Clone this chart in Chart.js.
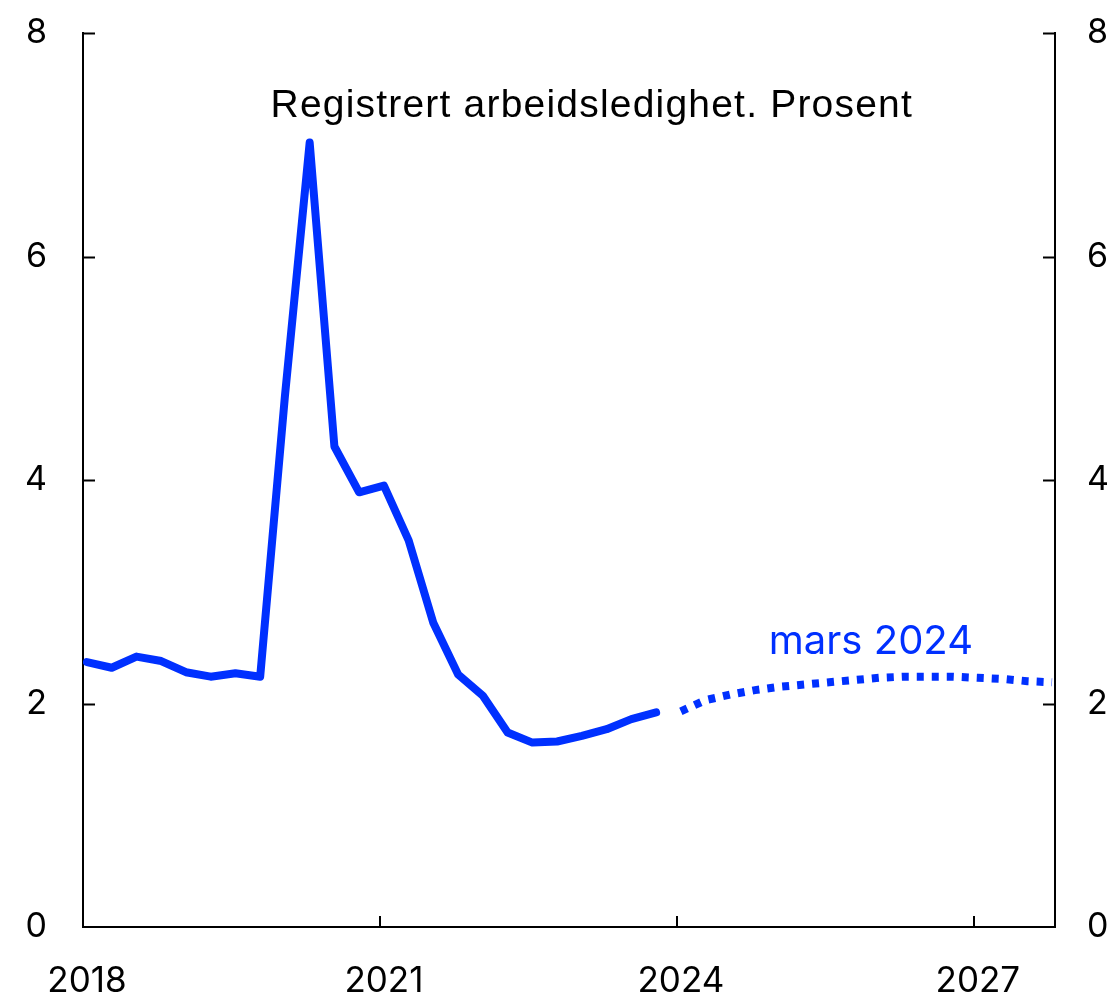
<!DOCTYPE html>
<html>
<head>
<meta charset="utf-8">
<script src="https://cdn.jsdelivr.net/npm/chart.js@4"></script>
<style>
  html, body { margin: 0; padding: 0; background: #fff; }
  #wrap { width: 1111px; height: 997px; }
</style>
</head>
<body>
<div id="wrap"><canvas id="chart" width="1111" height="997"></canvas></div>
<script>
// quarterly data, registrert arbeidsledighet (prosent)
const histQuarters = ['2018K1','2018K2','2018K3','2018K4','2019K1','2019K2','2019K3','2019K4',
  '2020K1','2020K2','2020K3','2020K4','2021K1','2021K2','2021K3','2021K4',
  '2022K1','2022K2','2022K3','2022K4','2023K1','2023K2','2023K3','2023K4'];
const histValues = [2.37, 2.32, 2.42, 2.38, 2.28, 2.24, 2.27, 2.24,
  4.75, 7.02, 4.30, 3.89, 3.95, 3.46, 2.72, 2.26,
  2.07, 1.74, 1.65, 1.66, 1.71, 1.77, 1.86, 1.92];
const fcQuarters = ['2024K1','2024K2','2024K3','2024K4','2025K1','2025K2','2025K3','2025K4',
  '2026K1','2026K2','2026K3','2026K4','2027K1','2027K2','2027K3','2027K4'];
const fcValues = [1.93, 2.03, 2.08, 2.12, 2.15, 2.17, 2.19, 2.21,
  2.23, 2.24, 2.24, 2.24, 2.23, 2.22, 2.20, 2.19];
const xTicks = [2018, 2021, 2024, 2027];
const yTicks = [0, 2, 4, 6, 8];
const titleText = 'Registrert arbeidsledighet. Prosent';
const fcLabel = 'mars 2024';

const blue = '#0030ff';
const font = 'Inter, "Liberation Sans", Arial, sans-serif';
const titleFont = '"Liberation Sans", Arial, sans-serif';

function qToX(q) {
  const y = parseInt(q.slice(0, 4));
  const k = parseInt(q.slice(5));
  return y + (k - 1) / 4 + 0.04;
}
const toPoints = (qs, vals) => qs.map((q, i) => ({ x: qToX(q), y: vals[i] }));

// y axes: fixed widths, no extra top/bottom padding for labels
const fixY = w => s => { s.width = w; s.paddingTop = 0; s.paddingBottom = 0; };

// inward tick marks + text labels in the plot
const extras = {
  id: 'extras',
  afterDraw(chart) {
    const { ctx, chartArea: a, scales } = chart;
    const x = scales.x, y = scales.y;
    ctx.save();
    ctx.strokeStyle = '#000';
    ctx.lineWidth = 2;
    ctx.beginPath();
    xTicks.forEach(v => {
      if (v === xTicks[0]) return;
      const px = Math.round(x.getPixelForValue(v));
      ctx.moveTo(px, a.bottom);
      ctx.lineTo(px, a.bottom - 11);
    });
    yTicks.forEach(v => {
      const py = Math.round(y.getPixelForValue(v)) + 0.5;
      if (v === 0) return;
      ctx.moveTo(a.left, py);
      ctx.lineTo(a.left + 12, py);
      ctx.moveTo(a.right, py);
      ctx.lineTo(a.right - 12, py);
    });
    ctx.stroke();

    ctx.textAlign = 'center';
    ctx.textBaseline = 'alphabetic';
    ctx.fillStyle = '#000';
    ctx.font = '39px ' + titleFont;
    ctx.letterSpacing = '1.2px';
    ctx.fillText(titleText, x.getPixelForValue(2023.14), y.getPixelForValue(7.25));
    ctx.letterSpacing = '0px';
    ctx.fillStyle = blue;
    ctx.font = '40px ' + font;
    ctx.fillText(fcLabel, x.getPixelForValue(2025.96), y.getPixelForValue(2.44));
    ctx.restore();
  }
};

new Chart(document.getElementById('chart'), {
  type: 'line',
  data: {
    datasets: [{
      data: toPoints(histQuarters, histValues),
      borderColor: blue,
      borderWidth: 8,
      pointRadius: 0,
      tension: 0,
      borderJoinStyle: 'round',
      borderCapStyle: 'round'
    }, {
      data: toPoints(fcQuarters, fcValues),
      borderColor: blue,
      borderWidth: 8,
      borderDash: [7, 8],
      pointRadius: 0,
      tension: 0,
      borderCapStyle: 'butt'
    }]
  },
  options: {
    responsive: false,
    animation: false,
    events: [],
    layout: { padding: { top: 33, left: 0, right: 0, bottom: 0 } },
    plugins: { legend: { display: false }, tooltip: { enabled: false } },
    scales: {
      x: {
        type: 'linear',
        min: 2018,
        max: 2027.82,
        afterBuildTicks: s => { s.ticks = xTicks.map(v => ({ value: v })); },
        afterFit: s => { s.height = 70; s.paddingLeft = 0; s.paddingRight = 0; },
        grid: { display: true, drawOnChartArea: false, drawTicks: false },
        border: { display: true, color: '#000', width: 2 },
        ticks: {
          padding: 33,
          labelOffset: 4,
          color: '#000',
          maxRotation: 0,
          font: { family: font, size: 35 },
          callback: v => String(v)
        }
      },
      y: {
        position: 'left',
        min: 0,
        max: 8,
        afterBuildTicks: s => { s.ticks = yTicks.map(v => ({ value: v })); },
        afterFit: fixY(83),
        grid: { display: true, drawOnChartArea: false, drawTicks: false },
        border: { display: true, color: '#000', width: 2 },
        ticks: { padding: 36, color: '#000', font: { family: font, size: 34 } }
      },
      y2: {
        position: 'right',
        min: 0,
        max: 8,
        afterBuildTicks: s => { s.ticks = yTicks.map(v => ({ value: v })); },
        afterFit: fixY(56),
        grid: { display: true, drawOnChartArea: false, drawTicks: false },
        border: { display: true, color: '#000', width: 2 },
        ticks: { padding: 32, color: '#000', font: { family: font, size: 34 } }
      }
    }
  },
  plugins: [extras]
});
</script>
</body>
</html>
